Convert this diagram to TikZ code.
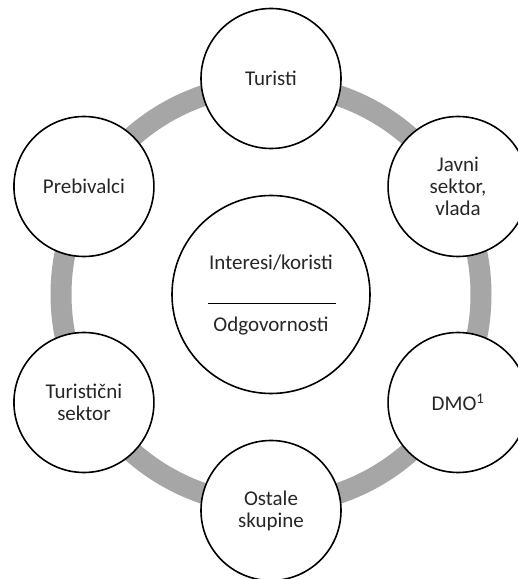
\documentclass[tikz,border=0pt]{standalone}
\usepackage{fontspec}
\setmainfont{Carlito}
\usetikzlibrary{calc}
\definecolor{ringgray}{HTML}{A6A6A6}
\definecolor{txt}{HTML}{262626}
\begin{document}
\begin{tikzpicture}[x=1pt,y=1pt,
  actor/.style={circle,draw=black,line width=1.6pt,fill=white,minimum size=140pt,inner sep=0pt,align=center,text=txt,font=\fontsize{21}{22}\selectfont},
  hub/.style={circle,draw=black,line width=1.6pt,fill=white,minimum size=198pt,inner sep=0pt},
  lbl/.style={font=\fontsize{21}{22}\selectfont,text=txt,inner sep=0pt}]
\useasboundingbox (0,0) rectangle (518,579);
\clip (0,0) rectangle (518,579);
\coordinate (c) at (271,284.5);
\draw[ringgray,line width=21pt] (c) circle (210);
\node[hub] (center) at (c) {};
\node[lbl] (int) at (271,316) {Interesi/koristi};
\draw[line width=0.7pt] (208,276) coordinate (la) -- (336,276) coordinate (lb);
\node[lbl] (odg) at (271,253) {Odgovornosti};
\node[actor] (tur) at ($(c)+(90:216)$) {Turisti};
\node[actor] (jav) at ($(c)+(30:216)$) {Javni\\sektor,\\vlada};
\node[actor] (dmo) at ($(c)+(-30:216)$) {DMO\textsuperscript{1}};
\node[actor] (ost) at ($(c)+(-90:216)$) {Ostale\\skupine};
\node[actor] (ts) at ($(c)+(210:216)$) {Turistični\\sektor};
\node[actor] (pre) at ($(c)+(150:216)$) {Prebivalci};
\end{tikzpicture}
\end{document}
